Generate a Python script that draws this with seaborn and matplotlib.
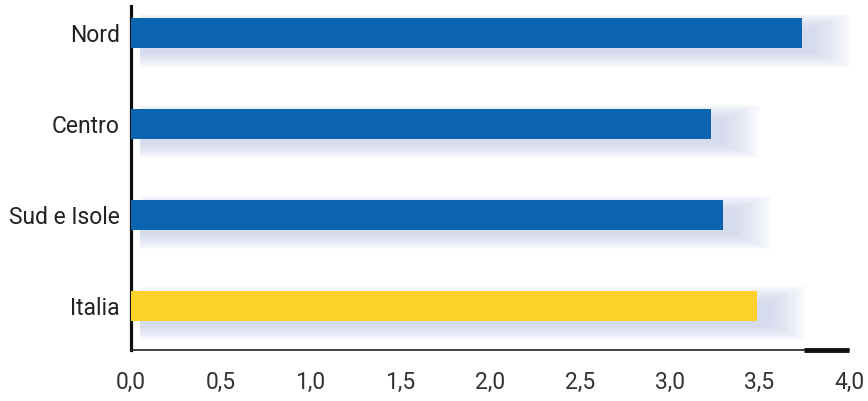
import matplotlib
matplotlib.use("Agg")
import matplotlib.pyplot as plt
import numpy as np
import pandas as pd
import seaborn as sns

# -- Data ----------------------------------------------------------------------
regions = ["Nord", "Centro", "Sud e Isole", "Italia"]
values = [3.74, 3.23, 3.30, 3.49]
bar_colors = ["#0a64b0", "#0a64b0", "#0a64b0", "#fcd22a"]
x_ticks = [0.0, 0.5, 1.0, 1.5, 2.0, 2.5, 3.0, 3.5, 4.0]

sns.set_theme(style="white")
plt.rcParams["font.family"] = ["Roboto", "DejaVu Sans"]

df = pd.DataFrame({"region": regions, "value": values})

fig = plt.figure(figsize=(8.68, 4.01), dpi=100)
ax = fig.add_axes([131 / 868, 1 - 350 / 401, (849 - 131) / 868, (350 - 6) / 401])

# soft bluish glow behind the bars, shifted down-right
ypos = np.arange(len(regions))
for k in range(10):
    grow = 0.016 * k
    ax.barh(ypos + 0.08, np.array(values) + 0.03 + 1.3 * grow, height=0.30 + 2 * grow,
            left=0.05, color="#aab4e0", alpha=0.055, linewidth=0, zorder=1)

sns.barplot(data=df, y="region", x="value", hue="region", palette=bar_colors,
            legend=False, width=0.33, saturation=1, linewidth=0, ax=ax, zorder=3)

ax.set_xlim(0, 4.0)
ax.set_ylim(3.484, -0.297)
ax.set_xticks(x_ticks)
ax.set_xticklabels([f"{t:.1f}".replace(".", ",") for t in x_ticks])
ax.set_xlabel("")
ax.set_ylabel("")

for side in ["top", "right"]:
    ax.spines[side].set_visible(False)
ax.spines["left"].set_color("#111111")
ax.spines["left"].set_linewidth(2.3)
ax.spines["bottom"].set_color("#222222")
ax.spines["bottom"].set_linewidth(1.2)

# thick end segment on the x axis
ax.plot([3.75, 4.0], [3.484, 3.484], color="#111111", linewidth=3.5,
        solid_capstyle="butt", clip_on=False, zorder=5)

ax.tick_params(axis="x", direction="in", length=5, width=2, color="#222222",
               labelsize=16.5, labelcolor="#333333", pad=15)
ax.tick_params(axis="y", length=0, labelsize=16.5, labelcolor="#222222", pad=8)

fig.savefig("out.png", dpi=100)
